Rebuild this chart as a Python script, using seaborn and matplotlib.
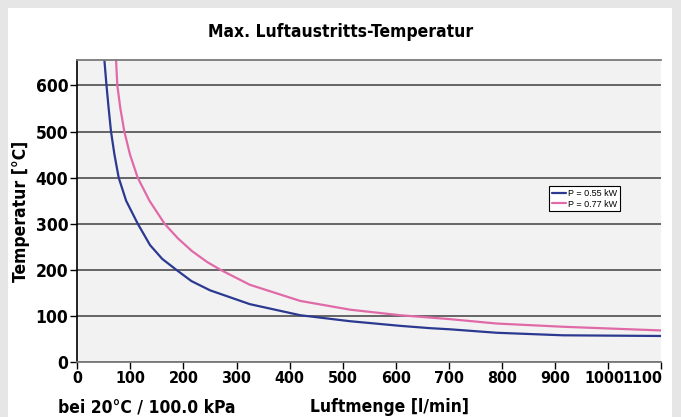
import matplotlib
matplotlib.use("Agg")
import matplotlib.pyplot as plt
import matplotlib.transforms as mtransforms
import seaborn as sns
import pandas as pd
from matplotlib.patches import Rectangle

# Data
flow_055 = [51, 55, 59, 63.5, 70, 78, 92, 114, 137, 160, 187, 215, 250, 325, 420, 514, 608, 664, 702, 790, 915, 1100]
temp_055 = [655, 600, 551, 500, 450, 400, 350, 300, 254, 224, 200, 176, 156, 126, 102, 89, 79, 74, 71.5, 64, 58.5, 57]
flow_077 = [73, 75.4, 81, 88.6, 99.3, 113.8, 136, 164.5, 190, 216, 245, 272, 325, 420, 514, 608, 664, 702, 790, 915, 1100]
temp_077 = [655, 600, 551, 500, 450, 400, 350, 300, 268, 241, 217, 199, 168, 133, 114, 102, 97, 93.5, 84, 77, 69]
series_labels = ["P = 0.55 kW", "P = 0.77 kW"]
x_ticks = [0, 100, 200, 300, 400, 500, 600, 700, 800, 900, 1000, 1100]
y_ticks = [0, 100, 200, 300, 400, 500, 600]

df = pd.concat([
    pd.DataFrame({"flow": flow_055, "temp": temp_055, "series": series_labels[0]}),
    pd.DataFrame({"flow": flow_077, "temp": temp_077, "series": series_labels[1]}),
])

sns.set_theme(style="white")
plt.rcParams["font.family"] = ["DejaVu Sans"]
plt.rcParams["font.stretch"] = "condensed"
plt.rcParams["text.color"] = "black"
plt.rcParams["xtick.color"] = "black"
plt.rcParams["ytick.color"] = "black"
plt.rcParams["axes.labelcolor"] = "black"

W, H = 681, 417
fig = plt.figure(figsize=(W / 100, H / 100), dpi=100)
fig.patch.set_facecolor("#e6e6e6")
fig.patches.append(Rectangle((8 / W, 0), (672 - 8) / W, (H - 8) / H,
                             transform=fig.transFigure, facecolor="white",
                             edgecolor="none", zorder=-5))

ax = fig.add_axes([77.3 / W, (H - 362.3) / H, (661.2 - 77.3) / W, (362.3 - 60) / H])
ax.set_zorder(2)
ax.set_facecolor("#f2f2f2")

sns.lineplot(data=df, x="flow", y="temp", hue="series", sort=False,
             palette=["#2b3990", "#e06aa8"], linewidth=1.6, ax=ax, legend=True)

ax.set_xlim(0, 1100)
ax.set_ylim(0, 655)
ax.set_xticks(x_ticks)
ax.set_yticks(y_ticks)
ax.set_xticklabels([str(v) for v in x_ticks], fontsize=11.5, fontweight="bold")
ax.set_yticklabels([str(v) for v in y_ticks], fontsize=12.5, fontweight="bold")
ax.tick_params(axis="both", which="major", direction="out", length=5, width=1,
               color="black", pad=1.5, bottom=True, left=True)
xl = ax.get_xticklabels()
xl[-1].set_horizontalalignment("right")
xl[-1].set_transform(xl[-1].get_transform() + mtransforms.ScaledTranslation(1 / 100, 0, fig.dpi_scale_trans))
xl[-2].set_transform(xl[-2].get_transform() + mtransforms.ScaledTranslation(-4 / 100, 0, fig.dpi_scale_trans))
ax.yaxis.grid(True, color="#5a5a5a", linewidth=1.3)
ax.xaxis.grid(False)
ax.set_axisbelow(True)
ax.spines["left"].set_color("black")
ax.spines["left"].set_linewidth(1.2)
for s in ["bottom", "top"]:
    ax.spines[s].set_color("#7a7a7a")
    ax.spines[s].set_linewidth(1.3)
ax.spines["right"].set_visible(False)

ax.set_xlabel("")
ax.set_ylabel("Temperatur [°C]", fontsize=12.5, fontweight="bold", labelpad=4)

fig.text(341 / W, (H - 32) / H, "Max. Luftaustritts-Temperatur", ha="center", va="center",
         fontsize=12.5, fontweight="bold")
fig.text(58 / W, (H - 407) / H, "bei 20°C / 100.0 kPa", ha="left", va="center",
         fontsize=12.5, fontweight="bold")
fig.text(390 / W, (H - 407) / H, "Luftmenge [l/min]", ha="center", va="center",
         fontsize=12.5, fontweight="bold")

leg = ax.legend(loc="upper left", bbox_to_anchor=((549 - 77.3) / (661.2 - 77.3), (362.3 - 186) / 302.3),
                frameon=True, fancybox=False, handlelength=1.6, handletextpad=0.2,
                borderpad=0.3, labelspacing=0.2, borderaxespad=0,
                prop={"family": ["Liberation Sans", "DejaVu Sans"], "size": 6.5, "stretch": "normal"})
leg.get_frame().set_edgecolor("black")
leg.get_frame().set_linewidth(0.8)
leg.get_frame().set_facecolor("white")
leg.get_frame().set_alpha(1)

fig.savefig("out.png", dpi=100, facecolor=fig.get_facecolor())
